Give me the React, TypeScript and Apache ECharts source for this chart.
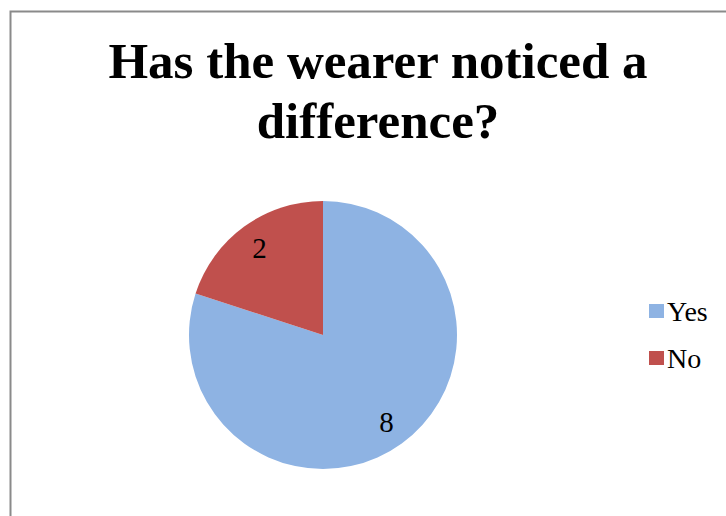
import React, { useEffect, useRef } from "react";
import * as echarts from "echarts";

const categories = ["Yes", "No"];
const values = [8, 2];
const colors = ["#8EB3E3", "#C0504D"];
const titleLines = ["Has the wearer noticed a", "difference?"];

export default function App() {
  const ref = useRef<HTMLDivElement>(null);
  useEffect(() => {
    if (!ref.current) return;
    const chart = echarts.init(ref.current, undefined, { renderer: "svg" });
    const data = categories.map((c, i) => ({ name: c, value: values[i], itemStyle: { color: colors[i] } }));
    chart.setOption({
      animation: false,
      backgroundColor: "#ffffff",
      title: {
        text: titleLines.join("\n"),
        left: 373,
        top: 26,
        textAlign: "center",
        textStyle: {
          fontFamily: "Liberation Serif, DejaVu Serif, serif",
          fontWeight: "bold",
          fontSize: 51,
          lineHeight: 60,
          color: "#000",
        },
      },
      graphic: [
        {
          type: "rect",
          shape: { x: 10.5, y: 11.5, width: 800, height: 600 },
          style: { fill: "none", stroke: "#8a8a8a", lineWidth: 2 },
          silent: true,
          z: -1,
        },
      ],
      legend: {
        orient: "vertical",
        left: 649,
        top: 297,
        padding: 0,
        data: categories,
        icon: "rect",
        itemWidth: 15,
        itemHeight: 14,
        itemGap: 19,
        textStyle: {
          fontFamily: "Liberation Serif, DejaVu Serif, serif",
          fontSize: 28,
          lineHeight: 26,
          color: "#000",
          padding: [0, 0, 0, -2],
        },
      },
      series: [
        {
          type: "pie",
          center: [323, 335],
          radius: [0, 134],
          startAngle: 90,
          clockwise: true,
          label: { show: false },
          labelLine: { show: false },
          emphasis: { disabled: true },
          data,
        },
        {
          type: "pie",
          center: [323, 335],
          radius: [76, 134],
          startAngle: 90,
          clockwise: true,
          silent: true,
          itemStyle: { color: "transparent" },
          label: {
            show: true,
            position: "inside",
            formatter: "{c}",
            fontFamily: "Liberation Serif, DejaVu Serif, serif",
            fontSize: 29,
            color: "#000",
          },
          labelLine: { show: false },
          emphasis: { disabled: true },
          data: categories.map((c, i) => ({ name: c, value: values[i], itemStyle: { color: "transparent" } })),
        },
      ],
    });
    return () => chart.dispose();
  }, []);
  return (
    <div
      ref={ref}
      style={{ position: "absolute", left: 0, top: 0, width: 726, height: 516 }}
    />
  );
}
